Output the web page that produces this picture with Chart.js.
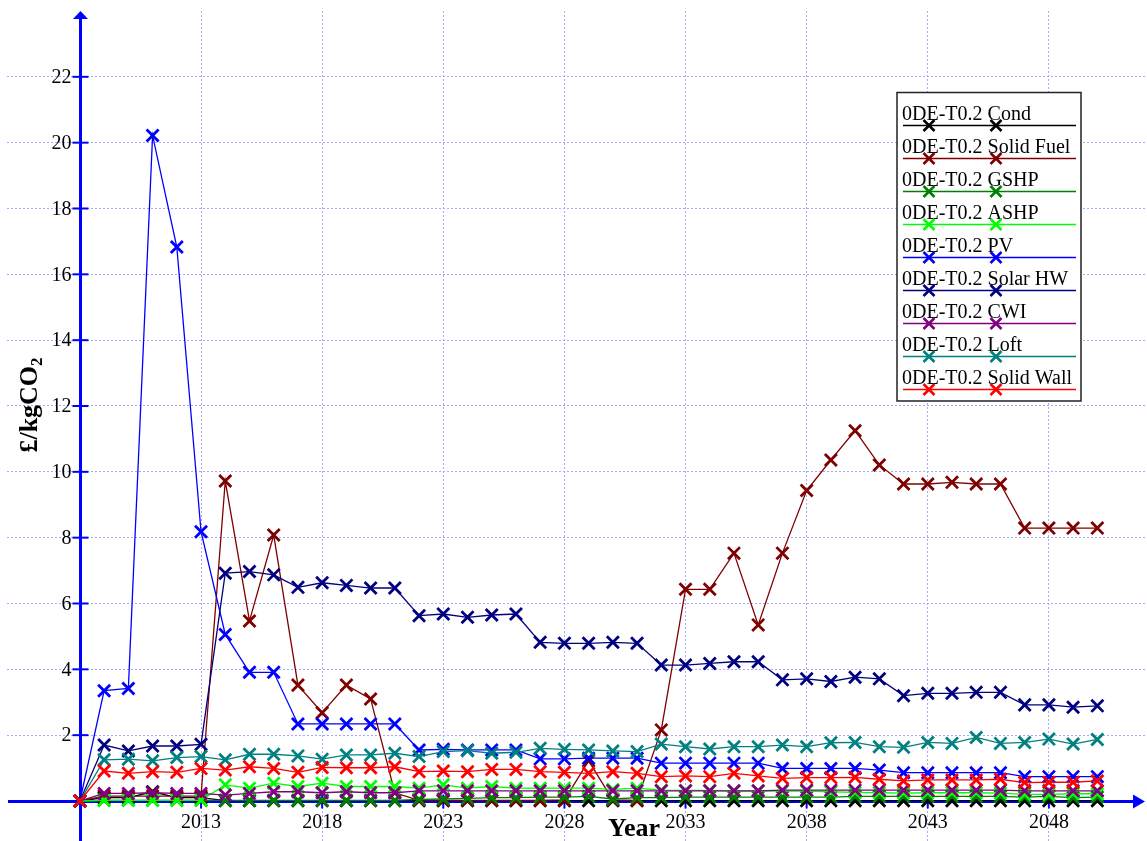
<!DOCTYPE html>
<html>
<head>
<meta charset="utf-8">
<title>£/kgCO2 by year</title>
<script src="https://cdn.jsdelivr.net/npm/chart.js@4.4.1/dist/chart.umd.min.js"></script>
<style>
  html, body { margin: 0; padding: 0; background: #fff; }
  canvas { display: block; }
</style>
</head>
<body>
<canvas id="costChart" width="1147" height="841"></canvas>
<script>
// years on the x axis
const years = [2008, 2009, 2010, 2011, 2012, 2013, 2014, 2015, 2016, 2017, 2018, 2019, 2020, 2021,
  2022, 2023, 2024, 2025, 2026, 2027, 2028, 2029, 2030, 2031, 2032, 2033, 2034, 2035, 2036,
  2037, 2038, 2039, 2040, 2041, 2042, 2043, 2044, 2045, 2046, 2047, 2048, 2049, 2050];

const xTickLabels = [2013, 2018, 2023, 2028, 2033, 2038, 2043, 2048];
const yTickLabels = [2, 4, 6, 8, 10, 12, 14, 16, 18, 20, 22];

// £ per kgCO2 for each measure
const cond = [0, 0.10, 0.10, 0.28, 0.10, 0.10, 0.01, 0.01, 0.01, 0.01, 0.01, 0.01, 0.01, 0.01,
  0.01, 0.01, 0.01, 0.01, 0.01, 0.01, 0.01, 0.01, 0.01, 0.01, 0.01, 0.01, 0.01, 0.01, 0.01,
  0.01, 0.01, 0.01, 0.01, 0.01, 0.01, 0.01, 0.01, 0.01, 0.01, 0.01, 0.01, 0.01, 0.01];
const solidFuel = [0, 0.15, 0.15, 0.15, 0.15, 0.15, 9.72, 5.47, 8.08, 3.52, 2.68, 3.52, 3.10, 0.25,
  0.02, 0.02, 0.02, 0.02, 0.02, 0.02, 0.03, 1.22, 0.03, 0.02, 2.16, 6.43, 6.43, 7.53, 5.35,
  7.53, 9.43, 10.36, 11.25, 10.21, 9.63, 9.63, 9.68, 9.63, 9.63, 8.29, 8.29, 8.29, 8.29];
const gshp = [0, 0.02, 0.02, 0.02, 0.02, 0.02, 0.02, 0.02, 0.02, 0.02, 0.02, 0.02, 0.02, 0.02,
  0.05, 0.06, 0.08, 0.10, 0.10, 0.12, 0.12, 0.14, 0.06, 0.10, 0.10, 0.12, 0.12, 0.12, 0.12,
  0.12, 0.12, 0.12, 0.14, 0.14, 0.14, 0.14, 0.14, 0.14, 0.14, 0.12, 0.14, 0.10, 0.12];
const ashp = [0, 0.02, 0.02, 0.02, 0.02, 0.02, 0.49, 0.39, 0.54, 0.44, 0.54, 0.44, 0.44, 0.44,
  0.39, 0.49, 0.39, 0.44, 0.39, 0.39, 0.39, 0.39, 0.35, 0.39, 0.33, 0.32, 0.32, 0.30, 0.30,
  0.30, 0.30, 0.28, 0.26, 0.25, 0.24, 0.25, 0.25, 0.25, 0.24, 0.20, 0.20, 0.22, 0.22];
const pv = [0, 3.35, 3.42, 20.22, 16.83, 8.18, 5.06, 3.91, 3.91, 2.34, 2.34, 2.34, 2.34, 2.34,
  1.55, 1.57, 1.55, 1.55, 1.55, 1.28, 1.28, 1.30, 1.30, 1.30, 1.15, 1.15, 1.15, 1.15, 1.15,
  0.99, 0.99, 0.99, 0.99, 0.94, 0.86, 0.86, 0.86, 0.86, 0.86, 0.74, 0.74, 0.74, 0.74];
const solarHW = [0, 1.70, 1.52, 1.67, 1.67, 1.72, 6.92, 6.97, 6.87, 6.49, 6.63, 6.55, 6.47, 6.47,
  5.63, 5.68, 5.58, 5.65, 5.68, 4.82, 4.79, 4.79, 4.82, 4.79, 4.13, 4.13, 4.18, 4.23, 4.23,
  3.68, 3.71, 3.63, 3.76, 3.71, 3.20, 3.27, 3.27, 3.30, 3.30, 2.92, 2.92, 2.85, 2.89];
const cwi = [0, 0.23, 0.23, 0.25, 0.23, 0.23, 0.18, 0.23, 0.28, 0.28, 0.25, 0.28, 0.25, 0.25,
  0.31, 0.31, 0.31, 0.31, 0.31, 0.31, 0.31, 0.31, 0.31, 0.31, 0.31, 0.31, 0.31, 0.31, 0.31,
  0.33, 0.33, 0.33, 0.33, 0.33, 0.33, 0.33, 0.33, 0.33, 0.33, 0.31, 0.31, 0.31, 0.31];
const loft = [0, 1.25, 1.27, 1.22, 1.32, 1.35, 1.25, 1.42, 1.42, 1.37, 1.27, 1.40, 1.40, 1.45,
  1.35, 1.50, 1.53, 1.45, 1.48, 1.60, 1.57, 1.55, 1.52, 1.50, 1.73, 1.65, 1.58, 1.65, 1.65,
  1.70, 1.65, 1.77, 1.78, 1.65, 1.63, 1.78, 1.75, 1.93, 1.75, 1.78, 1.88, 1.73, 1.87];
const solidWall = [0, 0.91, 0.84, 0.89, 0.87, 0.99, 0.94, 1.04, 0.99, 0.87, 1.02, 1.01, 1.01, 1.04,
  0.89, 0.91, 0.89, 0.96, 0.96, 0.89, 0.87, 0.84, 0.89, 0.84, 0.74, 0.76, 0.74, 0.84, 0.76,
  0.69, 0.71, 0.71, 0.72, 0.66, 0.61, 0.64, 0.64, 0.64, 0.66, 0.56, 0.57, 0.57, 0.61];

const seriesNames = ["0DE-T0.2 Cond", "0DE-T0.2 Solid Fuel", "0DE-T0.2 GSHP", "0DE-T0.2 ASHP",
  "0DE-T0.2 PV", "0DE-T0.2 Solar HW", "0DE-T0.2 CWI", "0DE-T0.2 Loft", "0DE-T0.2 Solid Wall"];
const seriesValues = [cond, solidFuel, gshp, ashp, pv, solarHW, cwi, loft, solidWall];
const seriesColors = ["#000000", "#800000", "#008000", "#00ff00", "#0000ff",
  "#000080", "#800080", "#008080", "#ff0000"];

const FONT = "'Liberation Serif', 'Times New Roman', serif";
const AXIS_BLUE = "#0000ff";

function drawCross(ctx, x, y, r, color) {
  ctx.save();
  ctx.strokeStyle = color;
  ctx.lineWidth = 2.6;
  ctx.beginPath();
  ctx.moveTo(x - r, y - r); ctx.lineTo(x + r, y + r);
  ctx.moveTo(x - r, y + r); ctx.lineTo(x + r, y - r);
  ctx.stroke();
  ctx.restore();
}

// axes through the origin, with arrow heads, tick marks and labels
const originAxes = {
  id: "originAxes",
  beforeDatasetsDraw(chart) {
    const { ctx, chartArea, scales: { x, y } } = chart;
    const x0 = Math.round(x.getPixelForValue(2008)) + 0.5;
    const y0 = Math.round(y.getPixelForValue(0)) + 0.5;
    ctx.save();
    ctx.strokeStyle = AXIS_BLUE;
    ctx.fillStyle = AXIS_BLUE;
    ctx.lineWidth = 3;
    ctx.beginPath();
    ctx.moveTo(x0, chartArea.bottom);
    ctx.lineTo(x0, chartArea.top + 7);
    ctx.moveTo(chartArea.left + 1, y0);
    ctx.lineTo(chartArea.right - 12, y0);
    ctx.stroke();
    // arrow heads
    ctx.beginPath();
    ctx.moveTo(x0, chartArea.top);
    ctx.lineTo(x0 + 7.5, chartArea.top + 8);
    ctx.lineTo(x0 - 7.5, chartArea.top + 8);
    ctx.closePath();
    ctx.fill();
    ctx.beginPath();
    ctx.moveTo(chartArea.right - 2, y0);
    ctx.lineTo(chartArea.right - 14, y0 - 7);
    ctx.lineTo(chartArea.right - 14, y0 + 7);
    ctx.closePath();
    ctx.fill();

    ctx.lineWidth = 2;
    ctx.font = "20px " + FONT;
    ctx.fillStyle = "#000";
    ctx.textAlign = "right";
    ctx.textBaseline = "middle";
    yTickLabels.forEach(v => {
      const py = y.getPixelForValue(v);
      ctx.beginPath();
      ctx.moveTo(x0 - 8, py); ctx.lineTo(x0 + 8, py);
      ctx.stroke();
      ctx.fillText(String(v), x0 - 9, py + 1);
    });
    ctx.textAlign = "center";
    ctx.textBaseline = "alphabetic";
    xTickLabels.forEach(v => {
      const px = x.getPixelForValue(v);
      ctx.beginPath();
      ctx.moveTo(px, y0 - 7); ctx.lineTo(px, y0 + 7);
      ctx.stroke();
      ctx.fillText(String(v), px, y0 + 26);
    });
    ctx.restore();
  },
  afterDraw(chart) {
    const { ctx } = chart;
    ctx.save();
    ctx.fillStyle = "#000";
    // axis titles
    ctx.font = "bold 26px " + FONT;
    ctx.textAlign = "center";
    ctx.textBaseline = "alphabetic";
    ctx.fillText("Year", 634, 836);

    // vertical unit label, the "2" set as a subscript
    ctx.translate(37, 405);
    ctx.rotate(-Math.PI / 2);
    ctx.textAlign = "left";
    ctx.font = "bold 26px " + FONT;
    const main = "£/kgCO";
    const mainW = ctx.measureText(main).width;
    ctx.font = "bold 17px " + FONT;
    const subW = ctx.measureText("2").width;
    const start = -(mainW + subW) / 2;
    ctx.font = "bold 26px " + FONT;
    ctx.fillText(main, start, 0);
    ctx.font = "bold 17px " + FONT;
    ctx.fillText("2", start + mainW, 5);
    ctx.restore();

    // legend box
    ctx.save();
    ctx.fillStyle = "#fff";
    ctx.fillRect(897, 92.5, 184, 308.5);
    ctx.strokeStyle = "#222";
    ctx.lineWidth = 1.5;
    ctx.strokeRect(897, 92.5, 184, 308.5);
    ctx.font = "20px " + FONT;
    ctx.textAlign = "left";
    ctx.textBaseline = "alphabetic";
    seriesNames.forEach((name, i) => {
      const ly = 125.5 + 33 * i;
      ctx.fillStyle = "#000";
      ctx.fillText(name, 902, ly - 6);
      ctx.strokeStyle = seriesColors[i];
      ctx.lineWidth = 1.5;
      ctx.beginPath();
      ctx.moveTo(903, ly); ctx.lineTo(1076, ly);
      ctx.stroke();
      drawCross(ctx, 929, ly, 5.5, seriesColors[i]);
      drawCross(ctx, 996, ly, 5.5, seriesColors[i]);
    });
    ctx.restore();
  }
};

const datasets = seriesNames.map((name, i) => ({
  label: name,
  data: years.map((yr, j) => ({ x: yr, y: seriesValues[i][j] })),
  borderColor: seriesColors[i],
  backgroundColor: seriesColors[i],
  borderWidth: 1.3,
  pointStyle: "crossRot",
  pointRadius: 8.5,
  pointBorderWidth: 2.8,
  pointHoverRadius: 8.5,
  fill: false,
  tension: 0,
  order: -i
}));

const gridStyle = { color: "#a8a8ff", lineWidth: 1, drawTicks: false };

new Chart(document.getElementById("costChart"), {
  type: "line",
  data: { datasets },
  options: {
    responsive: false,
    animation: false,
    devicePixelRatio: 1,
    layout: { autoPadding: false, padding: { left: 7, top: 11, right: 0, bottom: 0 } },
    scales: {
      x: {
        type: "linear",
        min: 2004.99,
        max: 2052.05,
        grid: gridStyle,
        border: { display: false, dash: [2, 2] },
        ticks: { display: false },
        afterBuildTicks: scale => { scale.ticks = xTickLabels.map(v => ({ value: v })); }
      },
      y: {
        type: "linear",
        min: -1.2155,
        max: 24,
        grid: gridStyle,
        border: { display: false, dash: [2, 2] },
        ticks: { display: false },
        afterBuildTicks: scale => { scale.ticks = yTickLabels.map(v => ({ value: v })); }
      }
    },
    plugins: {
      legend: { display: false },
      tooltip: { enabled: false }
    }
  },
  plugins: [originAxes]
});
</script>
</body>
</html>
